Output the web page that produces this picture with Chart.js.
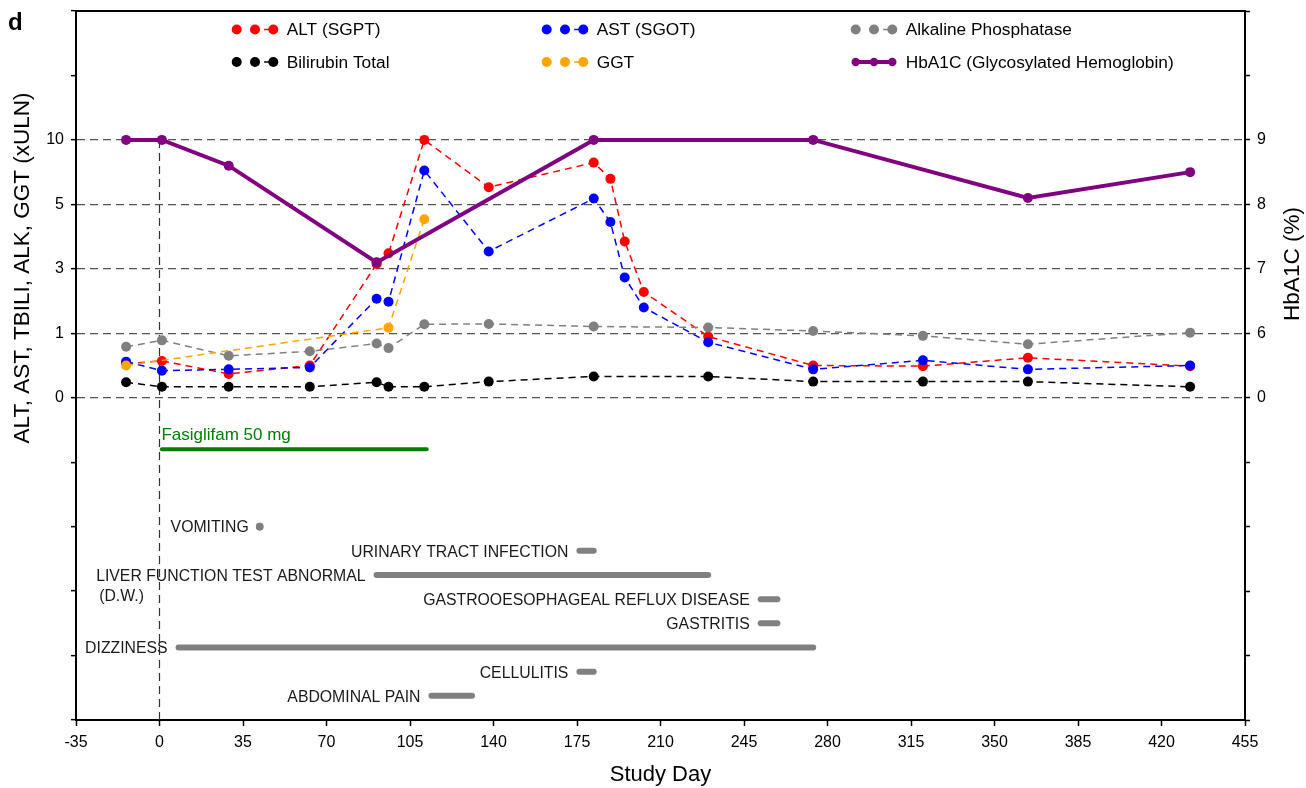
<!DOCTYPE html>
<html>
<head>
<meta charset="utf-8">
<script src="https://cdn.jsdelivr.net/npm/chart.js@4.4.1/dist/chart.umd.min.js"></script>
<style>
  html, body { margin: 0; padding: 0; background: #fff; }
  #wrap { width: 1306px; height: 788px; position: relative; }
</style>
</head>
<body>
<div id="wrap"><canvas id="c"></canvas></div>
<script>
// ---- axis ticks -------------------------------------------------------
const xTickValues = [-35, 0, 35, 70, 105, 140, 175, 210, 245, 280, 315, 350, 385, 420, 455];
const leftTickValues = [0, 1, 3, 5, 10];      // xULN, one per labelled gridline
const rightTickValues = [0, 6, 7, 8, 9];      // HbA1C %, same gridlines

// ---- laboratory series (study day, value) -----------------------------
const altDays   = [-14, 1, 29, 63, 91, 96, 111, 138, 182, 189, 195, 203, 230, 274, 320, 364, 432];
const altValues = [0.53, 0.57, 0.37, 0.50, 3.15, 3.48, 10, 6.33, 8.24, 6.98, 3.85, 2.28, 0.95, 0.50, 0.49, 0.62, 0.49];

const astDays   = [-14, 1, 29, 63, 91, 96, 111, 138, 182, 189, 195, 203, 230, 274, 320, 364, 432];
const astValues = [0.56, 0.42, 0.44, 0.47, 2.07, 1.98, 7.63, 3.54, 5.45, 4.45, 2.73, 1.80, 0.86, 0.44, 0.58, 0.44, 0.50];

const alkDays   = [-14, 1, 29, 63, 91, 96, 111, 138, 182, 230, 274, 320, 364, 432];
const alkValues = [0.79, 0.89, 0.65, 0.72, 0.84, 0.77, 1.28, 1.29, 1.21, 1.18, 1.07, 0.96, 0.83, 1.02];

const tbiliDays   = [-14, 1, 29, 63, 91, 96, 111, 138, 182, 230, 274, 320, 364, 432];
const tbiliValues = [0.24, 0.17, 0.17, 0.17, 0.24, 0.17, 0.17, 0.25, 0.33, 0.33, 0.25, 0.25, 0.25, 0.17];

const ggtDays   = [-14, 96, 111];
const ggtValues = [0.50, 1.17, 4.54];

const hba1cDays   = [-14, 1, 29, 91, 182, 274, 364, 432];
const hba1cValues = [9.0, 9.0, 8.6, 7.1, 9.0, 9.0, 8.1, 8.5];

// ---- study drug exposure ----------------------------------------------
const doseLabels = ['Fasiglifam 50 mg'];
const doseStart  = [1];
const doseEnd    = [112];

// ---- adverse events (one row each, top to bottom) ---------------------
const aeNames = [
  'VOMITING',
  'URINARY TRACT INFECTION',
  'LIVER FUNCTION TEST ABNORMAL\n(D.W.)',
  'GASTROOESOPHAGEAL REFLUX DISEASE',
  'GASTRITIS',
  'DIZZINESS',
  'CELLULITIS',
  'ABDOMINAL PAIN'
];
const aeStart = [42, 176, 91, 252, 252, 8, 176, 114];
const aeEnd   = [42, 182, 230, 259, 259, 274, 182, 131];

// ---- helpers ----------------------------------------------------------
const FONT = "'Liberation Sans', Arial, Helvetica, sans-serif";
Chart.defaults.font.family = FONT;
Chart.defaults.color = '#000';

// Both y axes share one position scale: gridline k sits at position k,
// and values between gridlines are placed linearly.
function toPos(v, stops) {
  for (let i = 0; i < stops.length - 1; i++) {
    if (v <= stops[i + 1] || i === stops.length - 2) {
      return i + (v - stops[i]) / (stops[i + 1] - stops[i]);
    }
  }
  return 0;
}
const DOSE_ROW = -0.8;
const AE_TOP = -2, AE_STEP = 0.375;
const aeRow = i => AE_TOP - i * AE_STEP;

function labSeries(label, days, vals, color, order) {
  return {
    label, order, yAxisID: 'y', legendKind: 'dots',
    data: days.map((d, i) => ({ x: d, y: toPos(vals[i], leftTickValues) })),
    borderColor: color, backgroundColor: color,
    borderWidth: 1.5, borderDash: [7, 5],
    pointRadius: 5, pointBorderWidth: 0,
    pointBackgroundColor: color, pointBorderColor: color,
    tension: 0, fill: false
  };
}

const datasets = [
  labSeries('ALT (SGPT)', altDays, altValues, '#ff0000', 6),
  labSeries('AST (SGOT)', astDays, astValues, '#0000ff', 4),
  labSeries('Alkaline Phosphatase', alkDays, alkValues, '#808080', 5),
  labSeries('Bilirubin Total', tbiliDays, tbiliValues, '#000000', 3),
  labSeries('GGT', ggtDays, ggtValues, '#ffa500', 2),
  {
    label: 'HbA1C (Glycosylated Hemoglobin)', order: 0, yAxisID: 'y2', legendKind: 'solid',
    data: hba1cDays.map((d, i) => ({ x: d, y: toPos(hba1cValues[i], rightTickValues) })),
    borderColor: '#800080', backgroundColor: '#800080',
    borderWidth: 4, pointRadius: 5, pointBorderWidth: 0,
    pointBackgroundColor: '#800080', pointBorderColor: '#800080',
    tension: 0, fill: false
  }
];

doseLabels.forEach((name, i) => {
  datasets.push({
    label: name, order: 20, yAxisID: 'y',
    data: [{ x: doseStart[i], y: DOSE_ROW }, { x: doseEnd[i], y: DOSE_ROW }],
    borderColor: '#008000', borderWidth: 4, borderCapStyle: 'round',
    pointRadius: 0, fill: false
  });
});

aeNames.forEach((name, i) => {
  const single = aeStart[i] === aeEnd[i];
  datasets.push({
    label: name, order: 20, yAxisID: 'y',
    data: [{ x: aeStart[i], y: aeRow(i) }, { x: aeEnd[i], y: aeRow(i) }],
    borderColor: '#808080', borderWidth: 6, borderCapStyle: 'round',
    pointRadius: single ? 3.8 : 0, pointBorderWidth: 0,
    pointBackgroundColor: '#808080', fill: false
  });
});

// ---- decorations: reference line, frame, legend, labels ---------------
const decor = {
  id: 'decor',
  beforeDatasetsDraw(chart) {
    const { ctx, chartArea: a, scales: { x, y } } = chart;
    ctx.save();
    ctx.strokeStyle = '#333';
    ctx.lineWidth = 1.2;
    ctx.setLineDash([8, 5]);
    const x0 = x.getPixelForValue(0);
    ctx.beginPath();
    ctx.moveTo(x0, y.getPixelForValue(4));
    ctx.lineTo(x0, a.bottom);
    ctx.stroke();
    ctx.restore();
  },
  afterDraw(chart) {
    const { ctx, chartArea: a, scales: { x, y } } = chart;
    ctx.save();

    // top frame line
    ctx.strokeStyle = '#000';
    ctx.lineWidth = 2;
    ctx.beginPath();
    ctx.moveTo(a.left - 1, a.top);
    ctx.lineTo(a.right + 1, a.top);
    ctx.stroke();

    // panel letter
    ctx.fillStyle = '#000';
    ctx.font = `bold 24px ${FONT}`;
    ctx.textAlign = 'left';
    ctx.textBaseline = 'alphabetic';
    ctx.fillText('d', 8, 30);

    // axis titles
    ctx.font = `22.5px ${FONT}`;
    ctx.textAlign = 'center';
    ctx.textBaseline = 'middle';
    ctx.save();
    ctx.translate(23, 268);
    ctx.rotate(-Math.PI / 2);
    ctx.fillText('ALT, AST, TBILI, ALK, GGT (xULN)', 0, 0);
    ctx.restore();
    ctx.save();
    ctx.translate(1293, 264);
    ctx.rotate(-Math.PI / 2);
    ctx.fillText('HbA1C (%)', 0, 0);
    ctx.restore();

    // legend, 3 columns x 2 rows
    const cols = [236.7, 546.7, 855.7];
    const rows = [29.5, 62];
    const items = chart.data.datasets.filter(d => d.legendKind);
    const orderInLegend = ['ALT (SGPT)', 'AST (SGOT)', 'Alkaline Phosphatase',
                           'Bilirubin Total', 'GGT', 'HbA1C (Glycosylated Hemoglobin)'];
    orderInLegend.forEach((lab, k) => {
      const ds = items.find(d => d.label === lab);
      if (!ds) return;
      const cx = cols[k % 3], cy = rows[Math.floor(k / 3)];
      const step = 18.3;
      ctx.save();
      ctx.strokeStyle = ds.borderColor;
      ctx.fillStyle = ds.borderColor;
      ctx.beginPath();
      if (ds.legendKind === 'solid') {
        ctx.lineWidth = 4;
        ctx.moveTo(cx, cy);
        ctx.lineTo(cx + 2 * step, cy);
      } else {
        ctx.lineWidth = 1.5;
        ctx.moveTo(cx + 1.5 * step, cy);
        ctx.lineTo(cx + 2 * step, cy);
      }
      ctx.stroke();
      const r = ds.legendKind === 'solid' ? 4.2 : 5;
      for (let j = 0; j < 3; j++) {
        ctx.beginPath();
        ctx.arc(cx + j * step, cy, r, 0, Math.PI * 2);
        ctx.fill();
      }
      ctx.restore();
      ctx.fillStyle = '#000';
      ctx.font = `17.3px ${FONT}`;
      ctx.textAlign = 'left';
      ctx.textBaseline = 'middle';
      ctx.fillText(lab, cx + 50, cy + 1);
    });

    // exposure label
    ctx.fillStyle = '#008000';
    ctx.font = `17px ${FONT}`;
    ctx.textAlign = 'left';
    ctx.textBaseline = 'alphabetic';
    doseLabels.forEach((name, i) => {
      ctx.fillText(name, x.getPixelForValue(doseStart[i]) - 0.5, y.getPixelForValue(DOSE_ROW) - 9);
    });

    // adverse event labels
    ctx.fillStyle = '#1a1a1a';
    ctx.font = `15.8px ${FONT}`;
    ctx.textBaseline = 'middle';
    aeNames.forEach((name, i) => {
      const lines = name.split('\n');
      const yy = y.getPixelForValue(aeRow(i)) + 1.5;
      const right = x.getPixelForValue(aeStart[i]) - 11;
      ctx.textAlign = 'right';
      ctx.fillText(lines[0], right, yy);
      const w = ctx.measureText(lines[0]).width;
      ctx.textAlign = 'left';
      for (let j = 1; j < lines.length; j++) {
        ctx.fillText(lines[j], right - w + 3, yy + 20 * j);
      }
    });
    ctx.restore();
  }
};

const tickFont = { size: 16, family: FONT };
const noEdgePadding = s => { s.paddingTop = 0; s.paddingBottom = 0; s.paddingLeft = 0; s.paddingRight = 0; };

new Chart(document.getElementById('c'), {
  type: 'line',
  data: { datasets },
  plugins: [decor],
  options: {
    responsive: true,
    maintainAspectRatio: false,
    animation: false,
    devicePixelRatio: 1,
    layout: { padding: { top: 11, left: 0, right: 0, bottom: 0 } },
    plugins: { legend: { display: false }, tooltip: { enabled: false } },
    scales: {
      x: {
        type: 'linear', min: -35, max: 455,
        afterBuildTicks: s => { s.ticks = xTickValues.map(v => ({ value: v })); },
        afterFit: s => { s.height = 68; noEdgePadding(s); },
        ticks: { font: tickFont, color: '#000', padding: 7, maxRotation: 0, autoSkip: false },
        grid: { drawOnChartArea: false, tickLength: 6, tickColor: '#000', tickWidth: 1.5 },
        border: { color: '#000', width: 2 },
        title: { display: true, text: 'Study Day', font: { size: 22, family: FONT }, color: '#000', padding: { top: 0, bottom: 0 } }
      },
      y: {
        type: 'linear', position: 'left', min: -5, max: 6,
        afterBuildTicks: s => { s.ticks = [-5, -4, -3, -2, -1, 0, 1, 2, 3, 4, 5, 6].map(v => ({ value: v })); },
        afterFit: s => { s.width = 76; noEdgePadding(s); },
        ticks: {
          font: tickFont, color: '#000', padding: 7, autoSkip: false,
          callback: v => (v >= 0 && v < leftTickValues.length) ? String(leftTickValues[v]) : ''
        },
        grid: {
          color: c => (c.tick && c.tick.value >= 0 && c.tick.value < leftTickValues.length) ? '#555' : 'rgba(0,0,0,0)',
          lineWidth: 1.3, tickLength: 5, tickColor: '#000', tickWidth: 1.5
        },
        border: { color: '#000', width: 2, dash: [8, 5] }
      },
      y2: {
        type: 'linear', position: 'right', min: -5, max: 6,
        afterBuildTicks: s => { s.ticks = [-5, -4, -3, -2, -1, 0, 1, 2, 3, 4, 5, 6].map(v => ({ value: v })); },
        afterFit: s => { s.width = 61; noEdgePadding(s); },
        ticks: {
          font: tickFont, color: '#000', padding: 7, autoSkip: false,
          callback: v => (v >= 0 && v < rightTickValues.length) ? String(rightTickValues[v]) : ''
        },
        grid: { drawOnChartArea: false, tickLength: 5, tickColor: '#000', tickWidth: 1.5 },
        border: { color: '#000', width: 2 }
      }
    }
  }
});
</script>
</body>
</html>
